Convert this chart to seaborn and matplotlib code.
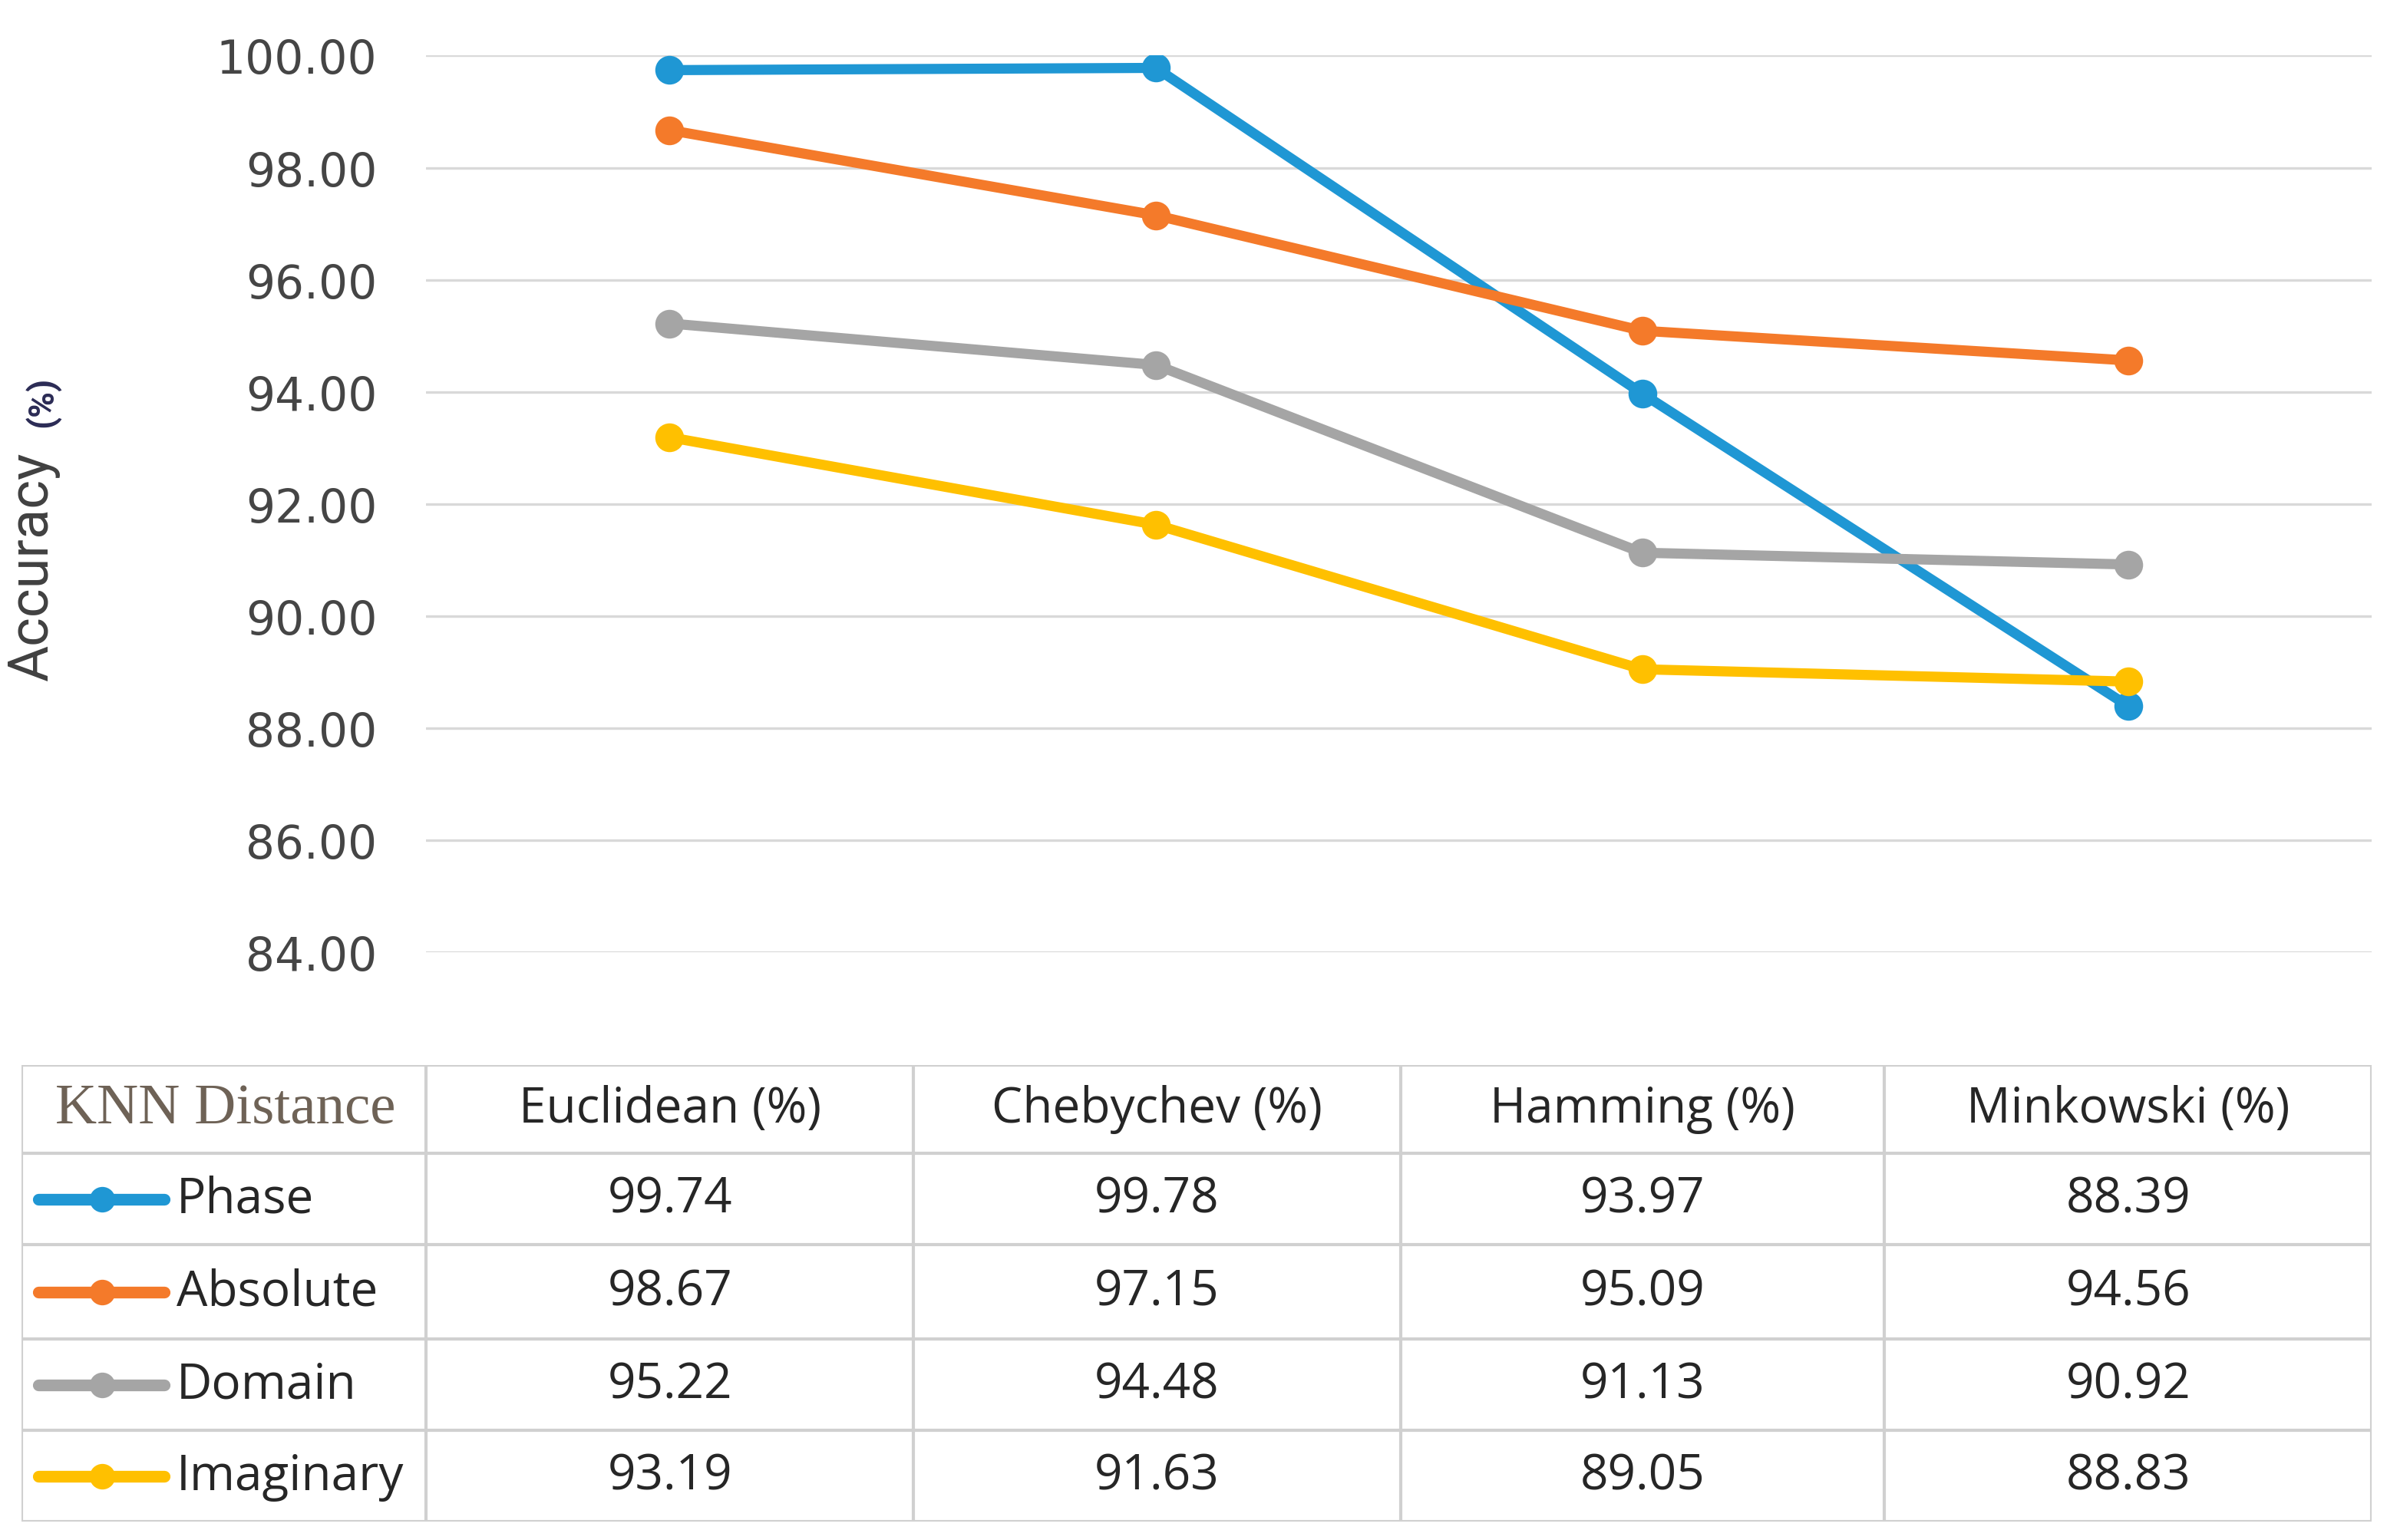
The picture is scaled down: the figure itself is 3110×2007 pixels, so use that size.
import pandas as pd
import seaborn as sns
import matplotlib.pyplot as plt

# data
distances = ['Euclidean', 'Chebychev', 'Hamming', 'Minkowski']
phase = [99.74, 99.78, 93.97, 88.39]
absolute = [98.67, 97.15, 95.09, 94.56]
domain = [95.22, 94.48, 91.13, 90.92]
imaginary = [93.19, 91.63, 89.05, 88.83]
series_names = ['Phase', 'Absolute', 'Domain', 'Imaginary']
y_ticks = [84, 86, 88, 90, 92, 94, 96, 98, 100]

colors = ['#1f97d4', '#f47a2a', '#a5a5a5', '#ffc000']

rows = []
for name, vals in zip(series_names, [phase, absolute, domain, imaginary]):
    for i, v in enumerate(vals):
        rows.append({'pos': i, 'Distance': distances[i], 'Series': name, 'Accuracy': v})
df = pd.DataFrame(rows)

sns.set_style('white')
plt.rcParams['font.family'] = ['DejaVu Sans']

W, H = 1568, 1012  # layout reference frame
fig = plt.figure(figsize=(31.1, 20.08), dpi=100)

ax = fig.add_axes([280 / W, 1 - 626 / H, (1558 - 280) / W, (626 - 37) / H])
sns.lineplot(data=df, x='pos', y='Accuracy', hue='Series', hue_order=series_names,
             palette=colors, marker='o', markersize=27, markeredgewidth=0,
             linewidth=9.5, legend=False, ax=ax)
ax.set_xlim(-0.5, 3.5)
ax.set_ylim(84, 100)
ax.set_yticks(y_ticks)
ax.set_yticklabels([f'{t:.2f}' for t in y_ticks], fontsize=43, color='#454545')
ax.set_xticks([])
ax.set_xlabel('')
ax.set_ylabel('')
ax.grid(axis='y', color='#d9d9d9', linewidth=2.4)
ax.set_axisbelow(True)
ax.tick_params(axis='y', length=0, pad=46)
for s in ax.spines.values():
    s.set_visible(False)

fig.text(22 / W, 1 - 372 / H, 'Accuracy', rotation=90, ha='center', va='center',
         fontsize=52, color='#404040', family=['Roboto', 'DejaVu Sans'], stretch='condensed')
fig.text(28 / W, 1 - 264 / H, '(%)', rotation=90, ha='center', va='center',
         fontsize=33, color='#2b2b55', family=['Roboto', 'DejaVu Sans'], weight='bold')

# table under the chart
tx = fig.add_axes([14 / W, 1 - 1000 / H, (1558 - 14) / W, (1000 - 700) / H])
tx.set_xlim(14, 1558)
tx.set_ylim(1000, 700)
tx.axis('off')
col_edges = [14, 280, 600, 920, 1238, 1558]
row_edges = [700, 758, 818, 880, 940, 1000]
grid_col = '#d0d0d0'
tx.vlines(col_edges, 700, 1000, color=grid_col, linewidth=3)
tx.hlines(row_edges, 14, 1558, color=grid_col, linewidth=3)

col_centers = [(a + b) / 2 for a, b in zip(col_edges[1:-1], col_edges[2:])]
row_centers = [(a + b) / 2 for a, b in zip(row_edges[:-1], row_edges[1:])]
cell_font = ['Open Sans', 'DejaVu Sans']
txt_col = '#262626'

tx.text(148, row_centers[0], 'KNN Distance', ha='center', va='center', fontsize=54,
        color='#6e6256', family=['Liberation Serif'])
for c, name in zip(col_centers, distances):
    tx.text(c, row_centers[0], f'{name} (%)', ha='center', va='center', fontsize=46,
            color=txt_col, family=cell_font)

for r, name, vals, col in zip(row_centers[1:], series_names,
                              [phase, absolute, domain, imaginary], colors):
    tx.plot([25, 108], [r, r], color=col, linewidth=11, solid_capstyle='round')
    tx.plot([67], [r], marker='o', color=col, markersize=24, markeredgewidth=0)
    tx.text(116, r, name, ha='left', va='center', fontsize=46, color=txt_col, family=cell_font)
    for c, v in zip(col_centers, vals):
        tx.text(c, r, f'{v:.2f}', ha='center', va='center', fontsize=46,
                color=txt_col, family=cell_font)

fig.savefig('out.png', dpi=100, facecolor='white')
